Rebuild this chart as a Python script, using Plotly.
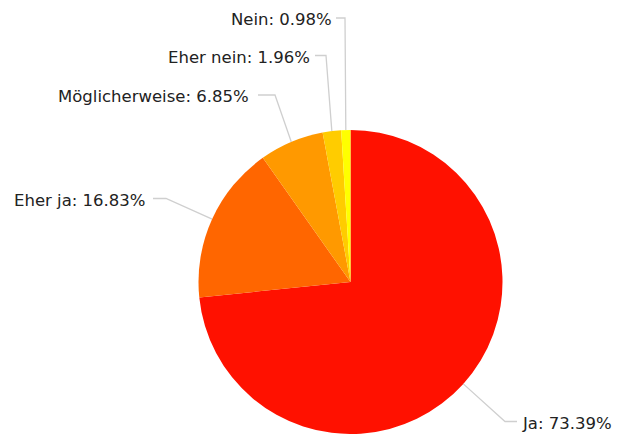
import math
import plotly.graph_objects as go

# Survey answers and their shares (%)
categories = ["Ja", "Eher ja", "Möglicherweise", "Eher nein", "Nein"]
shares = [73.39, 16.83, 6.85, 1.96, 0.98]
colors = ["#FF1100", "#FF6600", "#FF9900", "#FFCC00", "#FFFF00"]

W, H = 618, 434

# Pie placement inside the page (pixels)
CX, CY, R = 350.5, 282.0, 152.0

# Label layout: side, label y, elbow x, connector end x, text edge x (pixels)
label_layout = {
    "Ja":             ("right", 421.5, 505, 517, 521),
    "Eher ja":        ("left", 198.5, 166, 153, 146),
    "Möglicherweise": ("left", 95.0, 275, 258, 250),
    "Eher nein":      ("left", 55.5, 326, 315, 311),
    "Nein":           ("left", 18.0, 345, 336, 333),
}


def px(x):
    return x / W


def py(y):
    return 1 - y / H


fig = go.Figure(
    go.Pie(
        labels=categories,
        values=shares,
        marker=dict(colors=colors, line=dict(width=0)),
        sort=False,
        direction="clockwise",
        rotation=0,
        textinfo="none",
        hoverinfo="label+percent",
        showlegend=False,
        domain=dict(x=[px(CX - R), px(CX + R)], y=[py(CY + R), py(CY - R)]),
    )
)

# Connector lines and labels, starting from each slice's outer edge midpoint
total = sum(shares)
start = 0.0
shapes, annotations = [], []
for name, val in zip(categories, shares):
    mid = (start + val / 2) / total * 2 * math.pi
    start += val
    ex = CX + R * math.sin(mid)
    ey = CY - R * math.cos(mid)
    side, ly, elbow_x, end_x, text_x = label_layout[name]
    path = f"M {px(ex)},{py(ey)} L {px(elbow_x)},{py(ly)} L {px(end_x)},{py(ly)}"
    shapes.append(dict(type="path", path=path, xref="paper", yref="paper",
                       line=dict(color="#cfcfcf", width=1.3)))
    annotations.append(dict(
        x=px(text_x),
        y=py(ly + 1.5),
        xref="paper", yref="paper",
        text=f"{name}: {val:.2f}%",
        showarrow=False,
        xanchor="right" if side == "left" else "left",
        yanchor="middle",
        borderpad=0,
        font=dict(family="DejaVu Sans, sans-serif", size=16.5, color="#222222"),
    ))

fig.update_layout(
    width=W, height=H,
    margin=dict(l=0, r=0, t=0, b=0),
    paper_bgcolor="white",
    plot_bgcolor="white",
    shapes=shapes,
    annotations=annotations,
)

fig.write_html("out.html")
